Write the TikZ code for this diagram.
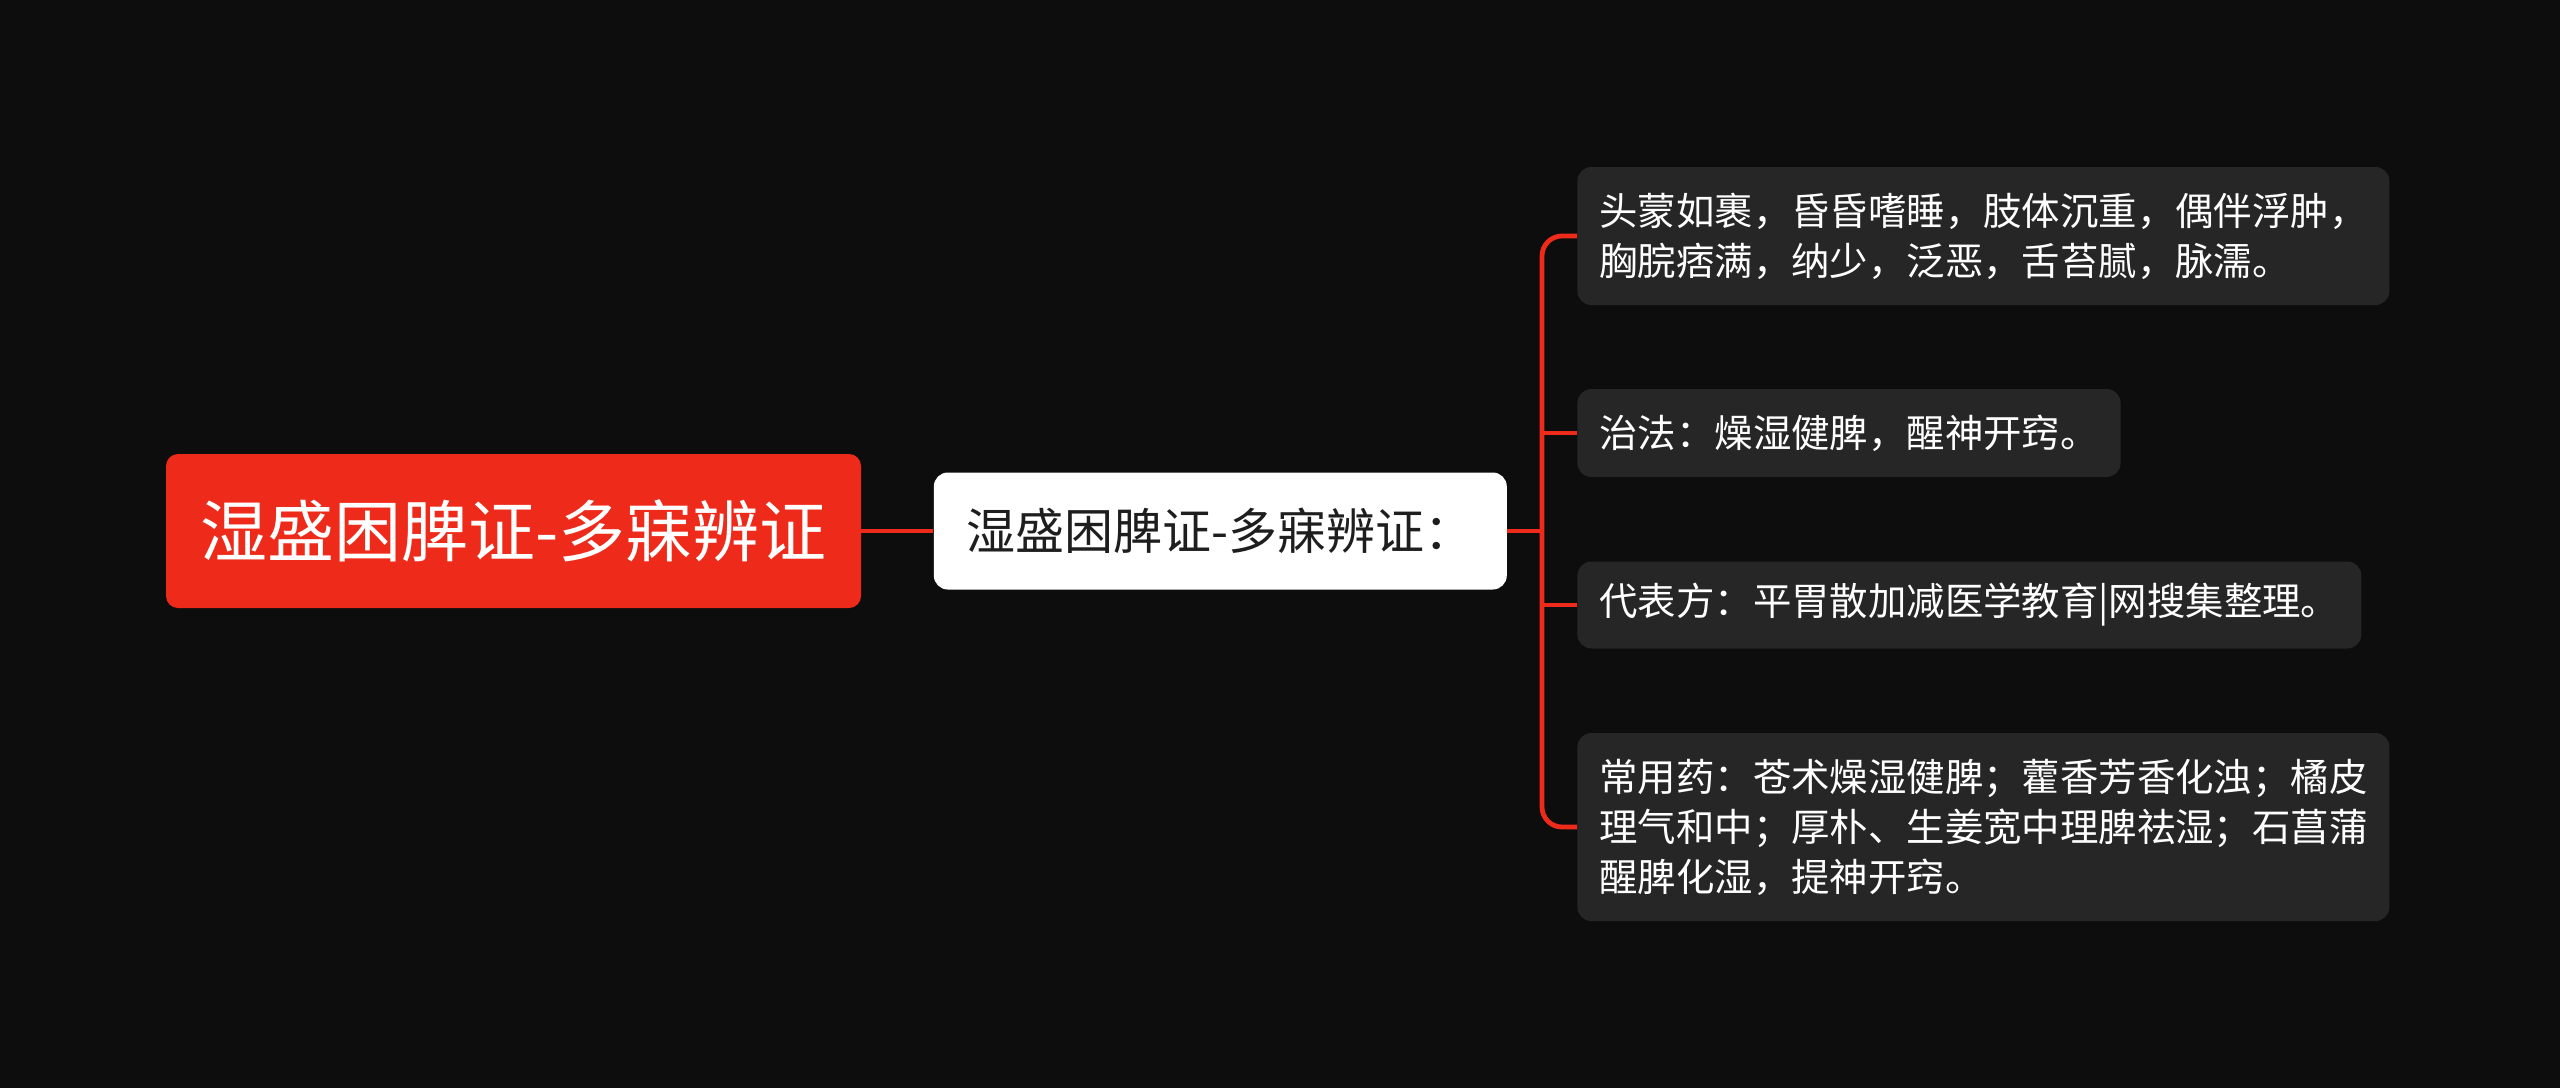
\documentclass[tikz,border=0pt]{standalone}
\usepackage{fontspec}
\setmainfont{Noto Sans CJK SC}
\usepackage{tikz}
\usetikzlibrary{positioning}
\definecolor{bgdark}{HTML}{0D0D0D}
\definecolor{mapred}{HTML}{EE2A1A}
\definecolor{leafgray}{HTML}{262626}
\definecolor{subtext}{HTML}{1E1E1E}

\begin{document}
\begin{tikzpicture}[
	x=0.5pt, y=-0.5pt,
	rootbox/.style={
		rectangle, rounded corners=6pt, fill=mapred, text=white,
		minimum width=347.5pt, minimum height=77pt, inner sep=0pt,
		font=\fontsize{33.5}{40}\selectfont
	},
	subbox/.style={
		rectangle, rounded corners=7pt, fill=white, text=subtext,
		minimum width=286.5pt, minimum height=58.5pt, inner sep=0pt,
		font=\fontsize{24.5}{30}\selectfont
	},
	leaf/.style={
		rectangle, rounded corners=7pt, fill=leafgray, text=white,
		anchor=west, align=left, inner xsep=11pt, inner ysep=0pt,
		font=\fontsize{19.2}{25}\selectfont
	},
	link/.style={draw=mapred, line width=2.4pt}
	]
	\fill[bgdark] (0,0) rectangle (2560,1088);
	\useasboundingbox (0,0) rectangle (2560,1088);

	\node[rootbox] (root) at (513.5,531) {湿盛困脾证-多寐辨证};
	\node[subbox, right=36pt of root] (sub) {湿盛困脾证-多寐辨证：};

	\node[leaf, minimum height=69pt] (symptom) at (1577,236)
		{头蒙如裹，昏昏嗜睡，肢体沉重，偶伴浮肿，\\胸脘痞满，纳少，泛恶，舌苔腻，脉濡。};
	\node[leaf, minimum height=44pt] (method) at (1577,433)
		{治法：燥湿健脾，醒神开窍。};
	\node[leaf, minimum height=43.5pt] (recipe) at (1577,605)
		{代表方：平胃散加减医学教育|网搜集整理。};
	\node[leaf, minimum height=94pt] (herbs) at (1577,827)
		{常用药：苍术燥湿健脾；藿香芳香化浊；橘皮\\理气和中；厚朴、生姜宽中理脾祛湿；石菖蒲\\醒脾化湿，提神开窍。};

	\coordinate (fork) at (1542,531);
	\draw[link] (root.east) -- (sub.west);
	\draw[link] (sub.east) -- (fork);
	\draw[link, rounded corners=10pt] (symptom.west) -| (fork) |- (herbs.west);
	\draw[link] (fork |- method.west) -- (method.west);
	\draw[link] (fork |- recipe.west) -- (recipe.west);
\end{tikzpicture}
\end{document}
